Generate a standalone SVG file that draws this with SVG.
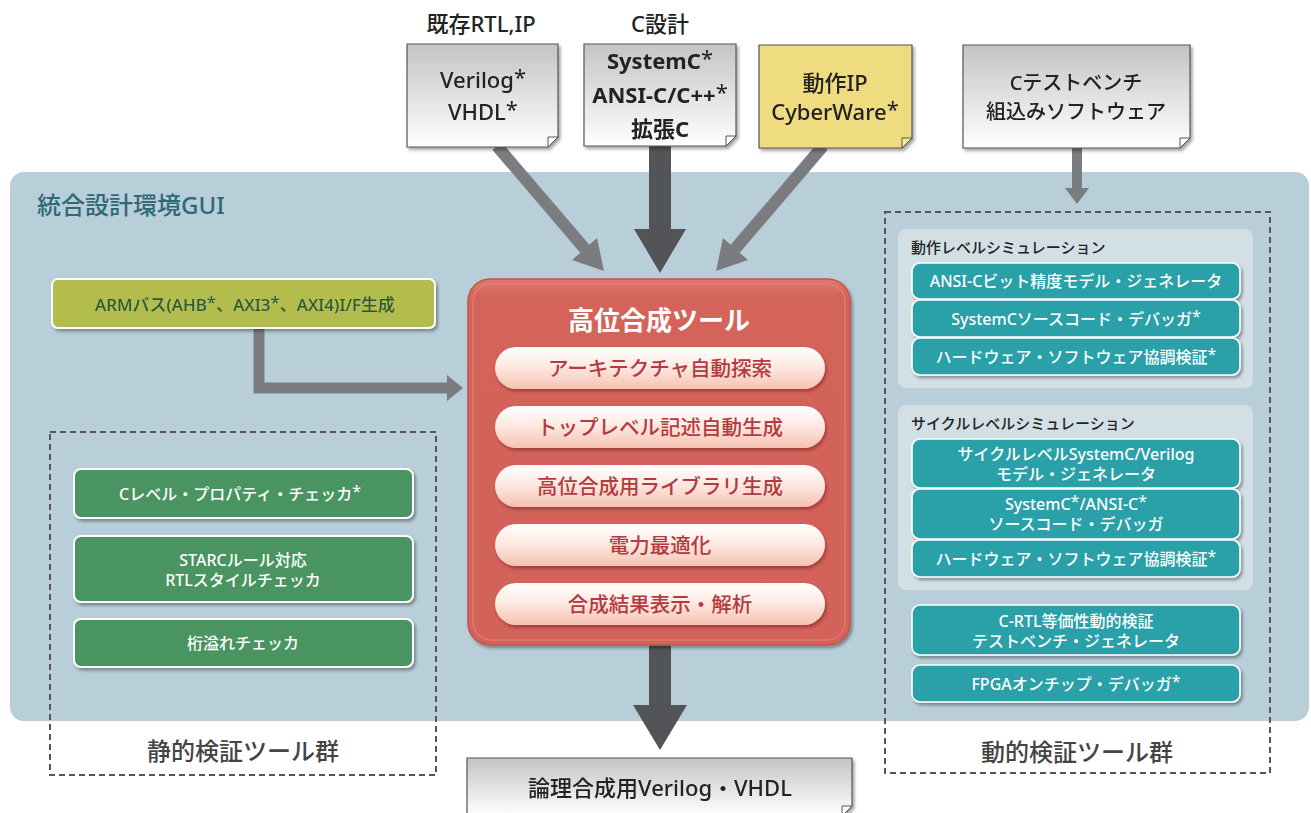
<svg xmlns="http://www.w3.org/2000/svg" width="1311" height="813" viewBox="0 0 1311 813">
<defs>
<linearGradient id="docg" x1="0" y1="0" x2="0" y2="1"><stop offset="0" stop-color="#c4c4c4"/><stop offset="1" stop-color="#ffffff"/></linearGradient>
<linearGradient id="pillg" x1="0" y1="0" x2="0" y2="1"><stop offset="0" stop-color="#ffffff"/><stop offset="0.45" stop-color="#fdeae3"/><stop offset="1" stop-color="#f6c2b1"/></linearGradient>
<linearGradient id="redg" x1="0" y1="0" x2="0" y2="1"><stop offset="0" stop-color="#e07a70"/><stop offset="0.05" stop-color="#d4645a"/><stop offset="1" stop-color="#d2625a"/></linearGradient>
<filter id="sh" x="-10%" y="-10%" width="125%" height="130%"><feDropShadow dx="2" dy="2.5" stdDeviation="1.6" flood-color="#000" flood-opacity="0.35"/></filter>
<filter id="shr" x="-10%" y="-10%" width="125%" height="130%"><feDropShadow dx="1.5" dy="2.5" stdDeviation="1.5" flood-color="#7a2020" flood-opacity="0.55"/></filter>
</defs>
<style>
text{font-family:"Noto Sans","Noto Sans CJK JP",sans-serif;font-weight:500}
text.b{font-weight:bold}
.doc{fill:url(#docg);stroke:#555;stroke-width:1.2}
.fold{fill:#fff;stroke:#555;stroke-width:1}
.dt{font-size:22px;fill:#222;text-anchor:middle}
.top{font-size:22px;fill:#222;text-anchor:middle}
.green{fill:#4a9461;stroke:#fff;stroke-width:2}
.teal{fill:#2ba0a8;stroke:#fff;stroke-width:1.6}
.wt{font-size:16px;fill:#fff;text-anchor:middle}
.pill{fill:url(#pillg)}
.pt{font-size:20.5px;fill:#b53a3e;text-anchor:middle}
.dash{fill:none;stroke:#555;stroke-width:2;stroke-dasharray:6 4}
.grp{font-size:24px;fill:#444;text-anchor:middle}
.sub{fill:#d6e3e9;opacity:0.85}
.subt{font-size:15px;fill:#222}
.ast{font-weight:400}
.lg{fill:#7b7c80}
.dg{fill:#535457}
</style>

<!-- GUI panel -->
<g id="gui">
<rect x="10" y="172" width="1299" height="549" rx="14" fill="#b8ced8"/>
<text x="37" y="214" font-size="24" fill="#2f6878">統合設計環境GUI</text>
</g>

<!-- connectors -->
<g id="connectors">
<line x1="497" y1="146" x2="585" y2="249" stroke="#7b7c80" stroke-width="12"/>
<polygon class="lg" points="572,260 597,238 604,271"/>
<line x1="823" y1="146" x2="735" y2="249" stroke="#7b7c80" stroke-width="12"/>
<polygon class="lg" points="748,260 723,238 716,271"/>
<rect class="dg" x="649" y="145" width="22" height="86"/>
<polygon class="dg" points="634,229 686,229 660,273"/>
<rect class="lg" x="1072" y="147" width="10" height="42"/>
<polygon class="lg" points="1065,188 1089,188 1077,204"/>
<path d="M259,327 V388 H448" fill="none" stroke="#7b7c80" stroke-width="11"/>
<polygon class="lg" points="447,375 463,388 447,401"/>
<rect class="dg" x="649" y="640" width="22" height="66"/>
<polygon class="dg" points="633,705 687,705 660,750"/>
</g>

<!-- top docs -->
<text class="top" x="481" y="32">既存RTL,IP</text>
<text class="top" x="660" y="32">C設計</text>

<g id="doc-verilog" filter="url(#sh)">
<path class="doc" d="M407,44 H558 V137 L548,147 H407 Z"/>
<path class="fold" d="M558,137 L548,137 L548,147 Z"/>
<text class="dt" x="483" y="88">Verilog<tspan class="ast" dy="-3">*</tspan></text>
<text class="dt" x="483" y="120">VHDL<tspan class="ast" dy="-3">*</tspan></text>
</g>

<g id="doc-c" filter="url(#sh)">
<path class="doc" d="M584,44 H736 V136 L726,146 H584 Z" stroke="#333" stroke-width="2.2"/>
<path class="fold" d="M736,136 L726,136 L726,146 Z"/>
<text class="dt b" x="660" y="69">SystemC<tspan class="ast" dy="-3">*</tspan></text>
<text class="dt b" x="660" y="103">ANSI-C/C++<tspan class="ast" dy="-3">*</tspan></text>
<text class="dt b" x="660" y="137">拡張C</text>
</g>

<g id="doc-cyberware" filter="url(#sh)">
<path d="M759,45 H912 V138 L902,148 H759 Z" fill="#efdb80" stroke="#555" stroke-width="1.2"/>
<path d="M912,138 L902,138 L902,148 Z" fill="#f8ee9a" stroke="#555" stroke-width="1"/>
<text class="dt" x="835" y="91" font-size="21">動作IP</text>
<text class="dt" x="835" y="120" font-size="21">CyberWare<tspan class="ast" dy="-3">*</tspan></text>
</g>

<g id="doc-testbench" filter="url(#sh)">
<path class="doc" d="M963,45 H1190 V138 L1180,148 H963 Z"/>
<path class="fold" d="M1190,138 L1180,138 L1180,148 Z"/>
<text class="dt" x="1076" y="90" style="font-size:20px">Cテストベンチ</text>
<text class="dt" x="1076" y="119" style="font-size:20px">組込みソフトウェア</text>
</g>

<!-- ARM -->
<g id="arm" filter="url(#sh)">
<rect x="52" y="279" width="383" height="49" rx="6" fill="#b3bd4d" stroke="#fff" stroke-width="2"/>
<text x="245" y="311" font-size="17" fill="#2c5a3c" text-anchor="middle">ARMバス(AHB<tspan class="ast" dy="-3">*</tspan><tspan dy="3">、AXI3</tspan><tspan class="ast" dy="-3">*</tspan><tspan dy="3">、AXI4)I/F生成</tspan></text>
</g>

<!-- static group -->
<g id="static">
<rect class="dash" x="50" y="432" width="386" height="343"/>
<g filter="url(#sh)">
<rect class="green" x="74" y="469" width="339" height="49" rx="7"/>
<rect class="green" x="74" y="536" width="339" height="66" rx="7"/>
<rect class="green" x="74" y="619" width="339" height="48" rx="7"/>
</g>
<text class="wt" x="240" y="500">Cレベル・プロパティ・チェッカ<tspan class="ast" dy="-3">*</tspan></text>
<text class="wt" x="243" y="566">STARCルール対応</text>
<text class="wt" x="243" y="586">RTLスタイルチェッカ</text>
<text class="wt" x="243" y="649">桁溢れチェッカ</text>
<text class="grp" x="243" y="760">静的検証ツール群</text>
</g>

<!-- HLS tool -->
<g id="hls">
<rect x="468" y="279" width="382" height="366" rx="22" fill="url(#redg)" stroke="#c4544c" stroke-width="1.5" filter="url(#sh)"/>
<rect x="473" y="284" width="372" height="356" rx="18" fill="none" stroke="#e6857b" stroke-width="1"/>
<text class="b" x="659" y="330" font-size="26" fill="#fff" text-anchor="middle">高位合成ツール</text>
<g filter="url(#shr)">
<rect class="pill" x="495" y="347" width="330" height="42" rx="21"/>
<rect class="pill" x="495" y="406" width="330" height="42" rx="21"/>
<rect class="pill" x="495" y="465" width="330" height="42" rx="21"/>
<rect class="pill" x="495" y="524" width="330" height="42" rx="21"/>
<rect class="pill" x="495" y="583" width="330" height="42" rx="21"/>
</g>
<text class="pt" x="660" y="376">アーキテクチャ自動探索</text>
<text class="pt" x="660" y="435">トップレベル記述自動生成</text>
<text class="pt" x="660" y="494">高位合成用ライブラリ生成</text>
<text class="pt" x="660" y="553">電力最適化</text>
<text class="pt" x="660" y="612">合成結果表示・解析</text>
</g>

<!-- dynamic group -->
<g id="dynamic">
<rect class="dash" x="885" y="212" width="385" height="561"/>
<rect class="sub" x="898" y="229" width="355" height="159" rx="8"/>
<text class="subt" x="911" y="253">動作レベルシミュレーション</text>
<rect class="sub" x="898" y="405" width="355" height="185" rx="8"/>
<text class="subt" x="911" y="429">サイクルレベルシミュレーション</text>
<g filter="url(#sh)">
<rect class="teal" x="912" y="263" width="328" height="36" rx="8"/>
<rect class="teal" x="912" y="300" width="328" height="37" rx="8"/>
<rect class="teal" x="912" y="338" width="328" height="37" rx="8"/>
<rect class="teal" x="912" y="439" width="328" height="49" rx="8"/>
<rect class="teal" x="912" y="489" width="328" height="50" rx="8"/>
<rect class="teal" x="912" y="540" width="328" height="37" rx="8"/>
<rect class="teal" x="912" y="605" width="328" height="50" rx="8"/>
<rect class="teal" x="912" y="665" width="328" height="37" rx="8"/>
</g>
<text class="wt" x="1076" y="287">ANSI-Cビット精度モデル・ジェネレータ</text>
<text class="wt" x="1076" y="325">SystemCソースコード・デバッガ<tspan class="ast" dy="-3">*</tspan></text>
<text class="wt" x="1076" y="363">ハードウェア・ソフトウェア協調検証<tspan class="ast" dy="-3">*</tspan></text>
<text class="wt" x="1076" y="460">サイクルレベルSystemC/Verilog</text>
<text class="wt" x="1076" y="480">モデル・ジェネレータ</text>
<text class="wt" x="1076" y="510">SystemC<tspan class="ast" dy="-3">*</tspan><tspan dy="3">/ANSI-C</tspan><tspan class="ast" dy="-3">*</tspan></text>
<text class="wt" x="1076" y="530">ソースコード・デバッガ</text>
<text class="wt" x="1076" y="565">ハードウェア・ソフトウェア協調検証<tspan class="ast" dy="-3">*</tspan></text>
<text class="wt" x="1076" y="627">C-RTL等価性動的検証</text>
<text class="wt" x="1076" y="647">テストベンチ・ジェネレータ</text>
<text class="wt" x="1076" y="690">FPGAオンチップ・デバッガ<tspan class="ast" dy="-3">*</tspan></text>
<text class="grp" x="1077" y="761">動的検証ツール群</text>
</g>

<!-- output doc -->
<g id="doc-output" filter="url(#sh)">
<path class="doc" d="M467,758 H852 V806 L842,816 H467 Z"/>
<path class="fold" d="M852,806 L842,806 L842,816 Z"/>
<text class="dt" x="660" y="796">論理合成用Verilog・VHDL</text>
</g>
</svg>
